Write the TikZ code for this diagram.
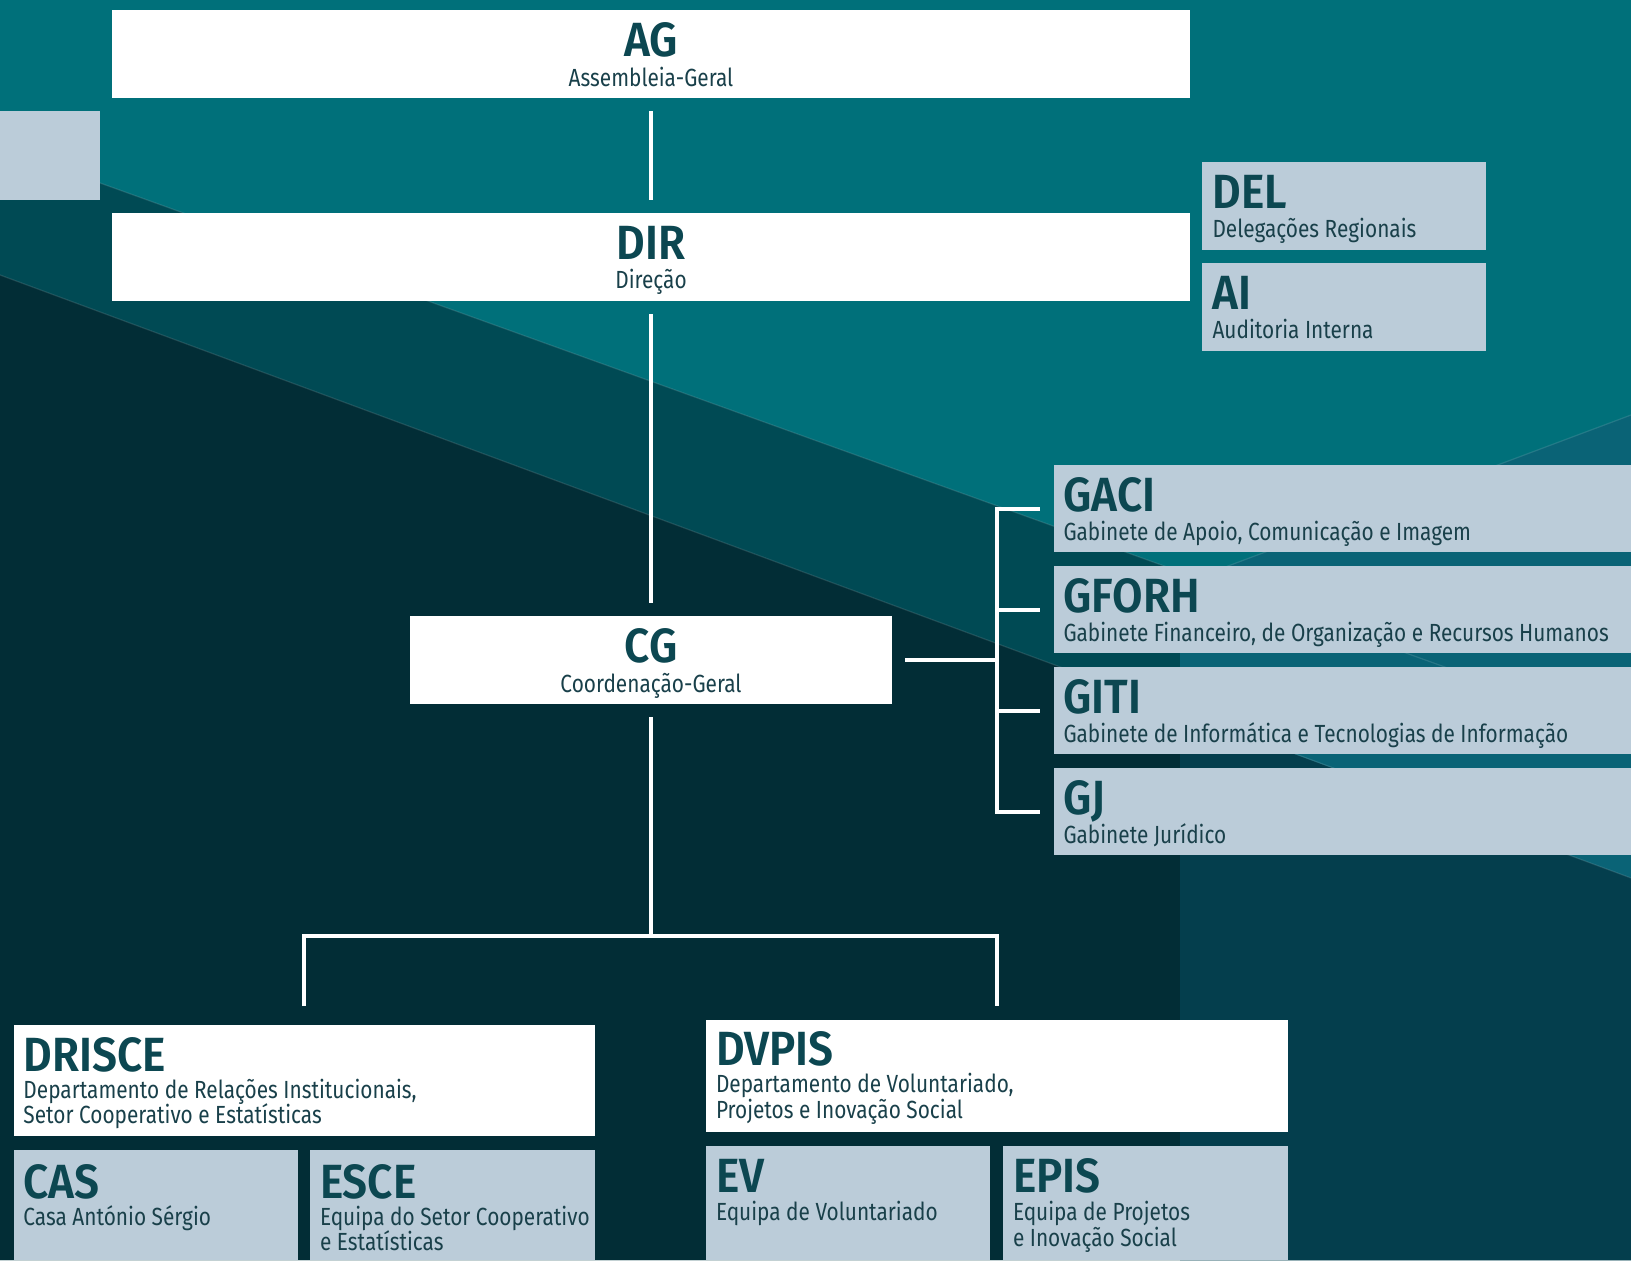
\documentclass[tikz,border=0pt]{standalone}
\usepackage{fontspec}
\newfontfamily\ttlfamily{Fira Sans}[FakeStretch=0.92, BoldFont={* SemiBold}]
\newfontfamily\subfamily{Fira Sans}[FakeStretch=0.84]
\definecolor{bgTop}{HTML}{00707A}
\definecolor{bgMid}{HTML}{004A54}
\definecolor{bgDark}{HTML}{022D36}
\definecolor{panelUp}{HTML}{0A6376}
\definecolor{panelLow}{HTML}{043E4D}
\definecolor{greyBox}{HTML}{BBCCD9}
\definecolor{titleCol}{HTML}{0C4751}
\definecolor{subCol}{HTML}{19404A}
\begin{document}
\begin{tikzpicture}[x=0.5pt,y=-0.5pt,
  box/.style={draw=none, rectangle, inner sep=0pt, outer sep=0pt, anchor=north west},
  wbox/.style={box, fill=white},
  gbox/.style={box, fill=greyBox},
  ttl/.style={inner sep=0pt, outer sep=0pt, text=titleCol, font=\ttlfamily\bfseries\fontsize{24}{24}\selectfont},
  sub/.style={inner sep=0pt, outer sep=0pt, text=subCol, font=\subfamily\fontsize{12.4}{12.4}\selectfont},
  conn/.style={draw=white, line width=2pt},
  edge/.style={draw=white, opacity=0.12, line width=0.6pt}
]
\useasboundingbox (0,0) rectangle (1631,1260);
% background
\fill[bgTop] (0,0) rectangle (1631,1260);
\fill[bgMid] (0,147) -- (1631,734) -- (1631,1260) -- (0,1260) -- cycle;
\fill[bgDark] (0,275) -- (1631,878) -- (1631,1260) -- (0,1260) -- cycle;
\fill[panelUp] (1180,584) -- (1631,415) -- (1631,1260) -- (1180,1260) -- cycle;
\fill[panelLow] (1180,712) -- (1631,878) -- (1631,1260) -- (1180,1260) -- cycle;
\draw[edge] (0,147) -- (1631,734);
\draw[edge] (0,275) -- (1631,878);
\draw[edge] (1180,584) -- (1631,415);
\fill[greyBox] (0,111) rectangle (100,200);

% boxes
\node[wbox, minimum width=539pt, minimum height=44pt] (AG) at (112,10) {};
\node[wbox, minimum width=539pt, minimum height=44pt] (DIR) at (112,213) {};
\node[gbox, minimum width=142pt, minimum height=44pt] (DEL) at (1202,162) {};
\node[gbox, minimum width=142pt, minimum height=44pt] (AI) at (1202,263) {};
\node[wbox, minimum width=241pt, minimum height=44pt] (CG) at (410,616) {};
\node[gbox, minimum width=288.5pt, minimum height=43.5pt] (GACI) at (1054,465) {};
\node[gbox, minimum width=288.5pt, minimum height=43.5pt] (GFORH) at (1054,566) {};
\node[gbox, minimum width=288.5pt, minimum height=43.5pt] (GITI) at (1054,667) {};
\node[gbox, minimum width=288.5pt, minimum height=43.5pt] (GJ) at (1054,768) {};
\node[wbox, minimum width=290.75pt, minimum height=55.5pt] (DRISCE) at (13.5,1025) {};
\node[gbox, minimum width=142pt, minimum height=55pt] (CAS) at (13.5,1150) {};
\node[gbox, minimum width=142.5pt, minimum height=55pt] (ESCE) at (310,1150) {};
\node[wbox, minimum width=291pt, minimum height=56pt] (DVPIS) at (706,1020) {};
\node[gbox, minimum width=142pt, minimum height=57pt] (EV) at (706,1146) {};
\node[gbox, minimum width=142.5pt, minimum height=57pt] (EPIS) at (1003,1146) {};

% centred texts
\node[ttl, anchor=base] (AGt) at ([shift={(0,46)}]AG.north) {AG};
\node[sub, anchor=base] (AGs) at ([shift={(0,76)}]AG.north) {Assembleia-Geral};
\node[ttl, anchor=base] (DIRt) at ([shift={(0,46)}]DIR.north) {DIR};
\node[sub, anchor=base] (DIRs) at ([shift={(0,75)}]DIR.north) {Direção};
\node[ttl, anchor=base] (CGt) at ([shift={(0,46)}]CG.north) {CG};
\node[sub, anchor=base] (CGs) at ([shift={(0,76)}]CG.north) {Coordenação-Geral};

% left aligned texts
\node[ttl, anchor=base west] (DELt) at ([shift={(10.5,46)}]DEL.north west) {DEL};
\node[sub, anchor=base west] (DELs) at ([shift={(10.5,75)}]DEL.north west) {Delegações Regionais};
\node[ttl, anchor=base west] (AIt) at ([shift={(10.5,46)}]AI.north west) {AI};
\node[sub, anchor=base west] (AIs) at ([shift={(10.5,75)}]AI.north west) {Auditoria Interna};

\node[ttl, anchor=base west] (GACIt) at ([shift={(9.5,46)}]GACI.north west) {GACI};
\node[sub, anchor=base west] (GACIs) at ([shift={(9.5,75)}]GACI.north west) {Gabinete de Apoio, Comunicação e Imagem};
\node[ttl, anchor=base west] (GFORHt) at ([shift={(9.5,46)}]GFORH.north west) {GFORH};
\node[sub, anchor=base west] (GFORHs) at ([shift={(9.5,75)}]GFORH.north west) {Gabinete Financeiro, de Organização e Recursos Humanos};
\node[ttl, anchor=base west] (GITIt) at ([shift={(9.5,46)}]GITI.north west) {GITI};
\node[sub, anchor=base west] (GITIs) at ([shift={(9.5,75)}]GITI.north west) {Gabinete de Informática e Tecnologias de Informação};
\node[ttl, anchor=base west] (GJt) at ([shift={(9.5,46)}]GJ.north west) {GJ};
\node[sub, anchor=base west] (GJs) at ([shift={(9.5,75)}]GJ.north west) {Gabinete Jurídico};

\node[ttl, anchor=base west] (DRISCEt) at ([shift={(10,46)}]DRISCE.north west) {DRISCE};
\node[sub, anchor=base west] (DRISCEs1) at ([shift={(10,73)}]DRISCE.north west) {Departamento de Relações Institucionais,};
\node[sub, anchor=base west] (DRISCEs2) at ([shift={(10,98)}]DRISCE.north west) {Setor Cooperativo e Estatísticas};
\node[ttl, anchor=base west] (CASt) at ([shift={(10,48)}]CAS.north west) {CAS};
\node[sub, anchor=base west] (CASs) at ([shift={(10,75)}]CAS.north west) {Casa António Sérgio};
\node[ttl, anchor=base west] (ESCEt) at ([shift={(10,48)}]ESCE.north west) {ESCE};
\node[sub, anchor=base west] (ESCEs1) at ([shift={(10,75)}]ESCE.north west) {Equipa do Setor Cooperativo};
\node[sub, anchor=base west] (ESCEs2) at ([shift={(10,100)}]ESCE.north west) {e Estatísticas};

\node[ttl, anchor=base west] (DVPISt) at ([shift={(10,45)}]DVPIS.north west) {DVPIS};
\node[sub, anchor=base west] (DVPISs1) at ([shift={(10,72)}]DVPIS.north west) {Departamento de Voluntariado,};
\node[sub, anchor=base west] (DVPISs2) at ([shift={(10,98)}]DVPIS.north west) {Projetos e Inovação Social};
\node[ttl, anchor=base west] (EVt) at ([shift={(10,46)}]EV.north west) {EV};
\node[sub, anchor=base west] (EVs) at ([shift={(10,74)}]EV.north west) {Equipa de Voluntariado};
\node[ttl, anchor=base west] (EPISt) at ([shift={(10,46)}]EPIS.north west) {EPIS};
\node[sub, anchor=base west] (EPISs1) at ([shift={(10,74)}]EPIS.north west) {Equipa de Projetos};
\node[sub, anchor=base west] (EPISs2) at ([shift={(10,100)}]EPIS.north west) {e Inovação Social};

% connectors
\coordinate (bar) at (651,936);
\coordinate (brk) at (997,660);
\draw[conn, shorten <=6.5pt, shorten >=6.5pt] (AG.south) -- (DIR.north);
\draw[conn, shorten <=6.5pt, shorten >=6.5pt] (DIR.south) -- (CG.north);
\draw[conn, shorten <=6.5pt] (CG.south) -- (CG.south |- bar);
\draw[conn] ([yshift=9.5pt]DRISCE.north) -- (DRISCE.north |- bar) -- (DVPIS.north |- bar) -- ([yshift=7pt]DVPIS.north);
\draw[conn, shorten <=6.5pt] (CG.east) -- (CG.east -| brk);
\draw[conn] ([xshift=-7pt]GACI.west) -- (GACI.west -| brk) -- (GJ.west -| brk) -- ([xshift=-7pt]GJ.west);
\draw[conn] (GFORH.west -| brk) -- ([xshift=-7pt]GFORH.west);
\draw[conn] (GITI.west -| brk) -- ([xshift=-7pt]GITI.west);
\end{tikzpicture}
\end{document}
